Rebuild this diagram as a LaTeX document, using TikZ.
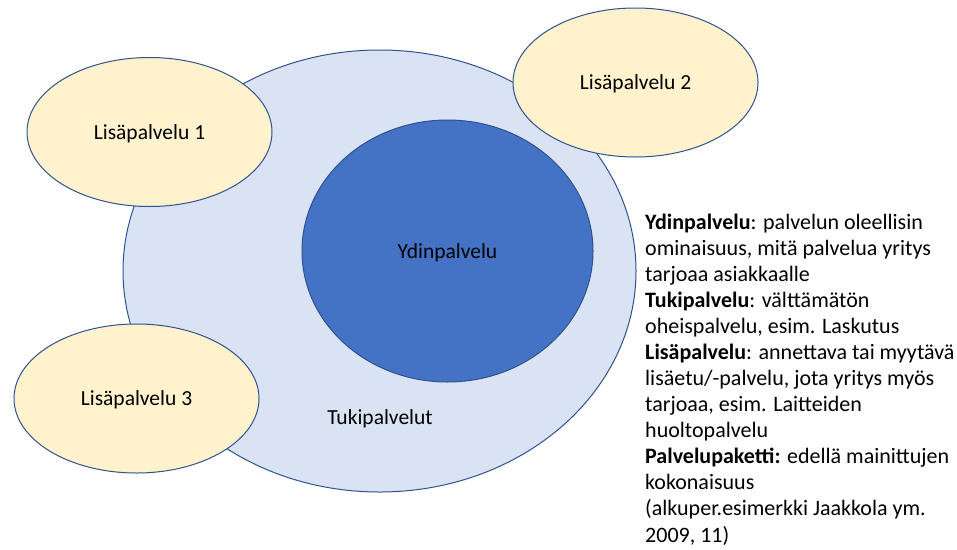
\documentclass[tikz,border=0pt]{standalone}
\usepackage{fontspec}
\setmainfont{Carlito}
\usetikzlibrary{shapes.geometric}
\definecolor{outline}{HTML}{2F528F}
\definecolor{supportfill}{HTML}{DAE3F3}
\definecolor{corefill}{HTML}{4472C4}
\definecolor{extrafill}{HTML}{FFF2CC}
\tikzset{
  labelfont/.style={font=\fontsize{21.5}{25}\selectfont, text depth=0pt},
  blob/.style={ellipse, draw=outline, line width=1pt, inner sep=0pt, labelfont},
  support/.style={blob, fill=supportfill},
  core/.style={blob, fill=corefill},
  extra/.style={blob, fill=extrafill, minimum width=245pt, minimum height=149pt},
  legend/.style={anchor=base west, inner sep=0pt, align=left,
    font=\fontsize{22}{26.06}\selectfont}
}
\begin{document}
\begin{tikzpicture}[x=1pt, y=-1pt]
  \useasboundingbox (0,0) rectangle (957,549);
  % support services: the large outer ellipse
  \node[support, minimum width=513pt, minimum height=442pt] (tuki) at (379.5,271) {};
  \node[labelfont, inner sep=0pt] (tukilabel) at (380,417) {Tukipalvelut};
  % core service
  \node[core, minimum width=291pt, minimum height=262pt] (ydin) at (447.5,251) {Ydinpalvelu};
  % additional services
  \node[extra] (lisa1) at (149.5,132) {Lisäpalvelu 1};
  \node[extra] (lisa2) at (635.5,82.5) {Lisäpalvelu 2};
  \node[extra] (lisa3) at (136.5,398.5) {Lisäpalvelu 3};
  % definitions (anchored at the baseline of the last line)
  \node[legend] (defs) at (645,542) {%
    \textbf{Ydinpalvelu}: palvelun oleellisin\\
    ominaisuus, mitä palvelua yritys\\
    tarjoaa asiakkaalle\\
    \textbf{Tukipalvelu}: välttämätön\\
    oheispalvelu, esim. Laskutus\\
    \textbf{Lisäpalvelu}: annettava tai myytävä\\
    lisäetu/-palvelu, jota yritys myös\\
    tarjoaa, esim. Laitteiden\\
    huoltopalvelu\\
    \textbf{Palvelupaketti:} edellä mainittujen\\
    kokonaisuus\\
    (alkuper.esimerkki Jaakkola ym.\\
    2009, 11)};
\end{tikzpicture}
\end{document}
